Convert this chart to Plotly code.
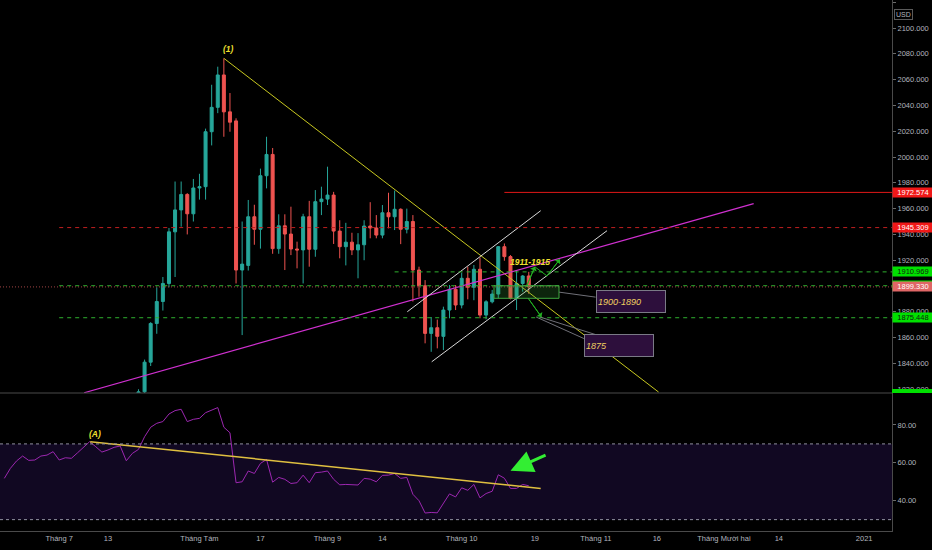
import pandas as pd
import plotly.graph_objects as go
from plotly.subplots import make_subplots

# XAUUSD daily candles 20 Jul - 16 Oct 2020
candle_dates = pd.bdate_range("2020-07-20", "2020-10-16")
opens = [1808, 1818, 1841, 1871, 1888, 1902, 1942, 1959, 1971, 1956,
         1976, 1977, 2019.6, 2038.5, 2063.6, 2035, 2028, 1912.4, 1916, 1953.7,
         1944, 1985.5, 2002, 1929, 1946.7, 1940.3, 1928.7, 1928, 1953.7, 1928.5,
         1965.4, 1967.4, 1970.5, 1942.6, 1930.5, 1934, 1928, 1932, 1946.5, 1945,
         1939.5, 1956.8, 1953.7, 1959.5, 1944, 1950, 1912.4, 1900.2, 1863.3, 1867.7,
         1861, 1881.4, 1897.5, 1885.3, 1906, 1899, 1913, 1877.5, 1887.8, 1893.8,
         1930.5, 1922.8, 1890.5, 1902, 1907.8]
highs = [1820, 1843, 1872, 1899, 1907, 1945, 1981, 1981, 1972, 1983,
         1987, 2022, 2056, 2070, 2076.5, 2049.6, 2030, 1950, 1966.7, 1963,
         1991, 2015.7, 2007, 1955.6, 1955.6, 1961.5, 1934.4, 1956, 1966, 1974.4,
         1977, 1992.5, 1973, 1951, 1949, 1941.3, 1941, 1951, 1965, 1955,
         1962.8, 1972.3, 1974, 1960.2, 1960, 1955, 1915, 1904.6, 1876, 1874,
         1884, 1900.8, 1900.8, 1910.3, 1915, 1916.3, 1922.2, 1889, 1897, 1931,
         1933, 1924, 1912, 1908.5, 1911]
lows = [1801, 1815, 1838, 1863, 1881, 1899, 1907, 1946, 1940, 1950,
        1967, 1967, 2009, 2034, 2015.7, 2019.6, 1902, 1862, 1912, 1932,
        1929, 1975.7, 1925, 1925, 1912.4, 1924, 1913.7, 1902, 1915, 1922.7,
        1955, 1962.8, 1932.6, 1921.5, 1916, 1924, 1906, 1920, 1937, 1937,
        1937, 1944.7, 1943.4, 1932.5, 1940.8, 1888, 1891.7, 1855.6, 1849, 1851.7,
        1850.4, 1875, 1881.4, 1882.7, 1889.7, 1889, 1875, 1874.2, 1886.6, 1890.5,
        1919.6, 1889.7, 1881.4, 1895.6, 1894]
closes = [1818, 1841, 1871, 1888, 1902, 1942, 1959, 1971, 1956, 1976,
          1977, 2019.6, 2038.5, 2063.6, 2035, 2027, 1912.4, 1917, 1953.7, 1944,
          1985.5, 2002, 1929, 1946.7, 1940.3, 1928.7, 1928, 1953.7, 1928.5, 1965.4,
          1967.4, 1970.5, 1942.6, 1930.5, 1934, 1928, 1932, 1946.5, 1945, 1939.5,
          1956.8, 1953.7, 1959.5, 1944, 1950, 1912.4, 1900.2, 1863.3, 1867.7, 1861,
          1881.4, 1897.5, 1885.3, 1906, 1899, 1913, 1877.5, 1887.8, 1893.8, 1930.5,
          1922.8, 1890.5, 1902, 1907.8, 1899.33]

# RSI(14), 18 Jun - 16 Oct 2020
rsi_dates = pd.bdate_range("2020-06-18", "2020-10-16")
rsi = [51.8, 57.1, 61.0, 63.6, 61.3, 61.5, 63.6, 64.1, 65.9,
       61.5, 62.7, 62.4, 65.3, 68.2, 71.2, 68.5, 65.7, 66.8, 68.2,
       68.9, 61.1, 65.0, 67.1, 73.8, 78.8, 80.9, 81.8, 85.8, 87.6,
       88.3, 81.8, 83.0, 83.5, 86.5, 87.9, 89.2, 78.8, 75.9, 49.5,
       50.0, 55.7, 54.4, 59.7, 61.8, 49.8, 52.3, 51.3, 49.1, 49.5,
       53.5, 49.5, 54.8, 55.1, 55.7, 51.3, 48.4, 48.6, 48.3, 48.3,
       51.8, 51.4, 50.0, 53.4, 53.5, 54.4, 51.8, 52.3, 43.4, 40.0,
       33.5, 33.8, 33.6, 38.6, 43.6, 42.0, 46.8, 45.5, 48.6, 41.5,
       43.8, 45.0, 53.7, 51.9, 46.5, 46.5, 48.6, 47.9]

# horizontal levels
level_prices = [1972.574, 1945.309, 1910.969, 1900.248, 1875.448]
level_starts = ["2020-10-12", "2020-07-01", "2020-09-16", "2020-07-01", "2020-07-01"]
last_price = 1899.330

# drawn trendlines (date, price)
down_x, down_y = ["2020-08-07", "2020-11-16 07:00"], [2076.5, 1817.8]
up_x, up_y = ["2020-07-07 02:00", "2020-12-07 21:00"], [1817.3, 1963.9]
chan_top_x, chan_top_y = ["2020-09-18 02:00", "2020-10-19 23:00"], [1880.1, 1958.4]
chan_bot_x, chan_bot_y = ["2020-09-24 02:00", "2020-11-03 20:00"], [1841.3, 1942.9]
rsi_tl_x, rsi_tl_y = ["2020-07-08 02:00", "2020-10-19 23:00"], [71.2, 46.5]

# forecast path
path_x = ["2020-10-15 14:00", "2020-10-19", "2020-10-21", "2020-10-23 02:00"]
path_y = [1899.2, 1914.9, 1907.8, 1920.7]
drop_x, drop_y = ["2020-10-15 21:00", "2020-10-20 02:00"], [1890.7, 1876.0]

tick_dates = ["2020-07-01", "2020-07-13", "2020-08-03", "2020-08-17", "2020-09-01",
              "2020-09-14", "2020-10-01", "2020-10-19", "2020-11-02", "2020-11-16",
              "2020-12-01", "2020-12-14", "2021-01-01"]
tick_text = ["Tháng 7", "13", "Tháng Tám", "17", "Tháng 9", "14", "Tháng 10", "19",
             "Tháng 11", "16", "Tháng Mười hai", "14", "2021"]

GREEN = "#26a69a"
RED = "#ef5350"
AXC = "#b2b5be"
FONT = "Liberation Sans"
split = 138 / 531

fig = make_subplots(rows=2, cols=1, shared_xaxes=True, vertical_spacing=0,
                    row_heights=[0.74, 0.26])

fig.add_trace(go.Candlestick(
    x=candle_dates, open=opens, high=highs, low=lows, close=closes,
    increasing=dict(line=dict(color=GREEN, width=1), fillcolor=GREEN),
    decreasing=dict(line=dict(color=RED, width=1), fillcolor=RED),
    showlegend=False), row=1, col=1)

for xs, ys, col, w in [(down_x, down_y, "#c8c820", 1),
                       (up_x, up_y, "#d030d0", 1.2),
                       (chan_top_x, chan_top_y, "#d8d8d8", 1),
                       (chan_bot_x, chan_bot_y, "#d8d8d8", 1)]:
    fig.add_trace(go.Scatter(x=xs, y=ys, mode="lines", line=dict(color=col, width=w),
                             showlegend=False, hoverinfo="skip"), row=1, col=1)

fig.add_trace(go.Scatter(x=rsi_dates, y=rsi, mode="lines",
                         line=dict(color="#9c27b0", width=1),
                         showlegend=False), row=2, col=1)
fig.add_trace(go.Scatter(x=rsi_tl_x, y=rsi_tl_y, mode="lines",
                         line=dict(color="#e0c040", width=1.5),
                         showlegend=False, hoverinfo="skip"), row=2, col=1)

# level lines
styles = [("#e01818", "solid"), ("#c02020", "4px,4px"), ("#2fb02f", "4px,4px"),
          ("#2fb02f", "4px,4px"), ("#2fb02f", "4px,4px")]
for p, s, (c, d) in zip(level_prices, level_starts, styles):
    fig.add_shape(type="line", xref="x", yref="y", x0=s, x1="2021-01-20", y0=p, y1=p,
                  line=dict(color=c, width=1, dash=d))
fig.add_shape(type="line", xref="paper", yref="y", x0=0, x1=1, y0=last_price, y1=last_price,
              line=dict(color="#a04444", width=1, dash="1px,2px"))

# 1900-1890 zone
fig.add_shape(type="rect", xref="x", yref="y", x0="2020-10-08 07:00", x1="2020-10-22 23:00",
              y0=1890.5, y1=1900.2, fillcolor="rgba(60,170,60,0.22)",
              line=dict(color="#3fa83f", width=1))

# callout pointers
for (x0, y0, x1, y1) in [("2020-10-22 23:00", 1895.3, "2020-10-30 23:00", 1891.4),
                         ("2020-10-19 05:00", 1876.0, "2020-10-29 01:00", 1859.3),
                         ("2020-10-19 20:00", 1876.0, "2020-11-02 05:00", 1862.0)]:
    fig.add_shape(type="line", xref="x", yref="y", x0=x0, x1=x1, y0=y0, y1=y1,
                  line=dict(color="#707078", width=1))

# forecast arrows
fig.add_trace(go.Scatter(x=path_x, y=path_y, mode="lines", line=dict(color="#22b022", width=1),
                         showlegend=False, hoverinfo="skip"), row=1, col=1)
fig.add_trace(go.Scatter(x=drop_x, y=drop_y, mode="lines", line=dict(color="#22b022", width=1),
                         showlegend=False, hoverinfo="skip"), row=1, col=1)
for hx, hy, tx, ty in [(path_x[1], path_y[1], path_x[0], path_y[0]),
                       (path_x[3], path_y[3], path_x[2], path_y[2]),
                       (drop_x[1], drop_y[1], drop_x[0], drop_y[0])]:
    fig.add_annotation(x=hx, y=hy, ax=tx, ay=ty, xref="x", yref="y", axref="x", ayref="y",
                       text="", showarrow=True, arrowhead=1, arrowsize=1.2,
                       arrowwidth=1, arrowcolor="#22b022")

# RSI pane band and bounds
fig.add_shape(type="rect", xref="x2 domain", yref="y2", x0=0, x1=1, y0=30, y1=70,
              fillcolor="#110822", line=dict(width=0), layer="below")
for v in (70, 30):
    fig.add_shape(type="line", xref="x2 domain", yref="y2", x0=0, x1=1, y0=v, y1=v,
                  line=dict(color="#9090a0", width=1, dash="3px,3px"))
fig.add_shape(type="line", xref="paper", yref="paper", x0=0, x1=1, y0=split, y1=split,
              line=dict(color="#4a4a4a", width=1))

# RSI arrow
fig.add_annotation(x="2020-10-13", y=55.8, ax="2020-10-21", ay=64.4, xref="x2", yref="y2",
                   axref="x2", ayref="y2", text="", showarrow=True, arrowhead=2,
                   arrowsize=1.5, arrowwidth=3, arrowcolor="#33ee33")

lab = dict(family=FONT, color="#f0e030", size=8.5)
fig.add_annotation(x="2020-08-07 20:00", y=2084, xref="x", yref="y", text="<b><i>(1)</i></b>",
                   showarrow=False, font=lab)
fig.add_annotation(x="2020-07-08 21:00", y=75.5, xref="x2", yref="y2", text="<b><i>(A)</i></b>",
                   showarrow=False, font=lab)
fig.add_annotation(x="2020-10-16 04:00", y=1918.6, xref="x", yref="y",
                   text="<b><i>1911-1915</i></b>", showarrow=False,
                   font=dict(family=FONT, color="#f0e030", size=8.5))
for bx, by, txt in [("2020-10-30 23:00", 1887.9, "1900-1890"),
                    ("2020-10-29 01:00", 1853.9, "1875")]:
    fig.add_annotation(x=bx, y=by, xref="x", yref="y", xanchor="left", yanchor="middle",
                       text="<i>" + txt + "</i>", showarrow=False, align="left",
                       width=66, height=19, borderpad=1, bgcolor="#2d0f3c",
                       bordercolor="#7a7a86", borderwidth=1,
                       font=dict(family=FONT, color="#f0d060", size=9))

# price scale tags
tags = [(1972.574, "#f01818", "#ffffff"), (1945.309, "#f01818", "#ffffff"),
        (1910.969, "#00e000", "#10220f"), (1900.248, "#00e000", "#10220f"),
        (last_price, "#e06666", "#ffffff"), (1875.448, "#00e000", "#10220f")]
for p, bg, fg in tags:
    fig.add_annotation(x=1, y=p, xref="paper", yref="y", xanchor="left", yanchor="middle",
                       text=f"{p:.3f}", showarrow=False, width=40, height=9, borderpad=0,
                       bgcolor=bg, font=dict(family=FONT, color=fg, size=7.5))
fig.add_shape(type="rect", xref="paper", yref="paper", x0=1, x1=1.045,
              y0=split, y1=split + 4 / 531, fillcolor="#00e000", line=dict(width=0))
fig.add_annotation(x=1.0235, y=0.983, xref="paper", yref="paper", text="USD",
                   showarrow=False, bordercolor="#5a5a5a", borderwidth=1, borderpad=1,
                   font=dict(family=FONT, color=AXC, size=7))

fig.update_xaxes(rangebreaks=[dict(bounds=["sat", "mon"])],
                 range=["2020-06-17 07:00", "2021-01-07 13:30"],
                 showgrid=False, zeroline=False, rangeslider_visible=False)
fig.update_xaxes(tickvals=tick_dates, ticktext=tick_text, tickfont=dict(family=FONT, size=7.5, color=AXC),
                 showline=True, linecolor="#4a4a4a", ticks="", row=2, col=1)

fig.update_layout(
    width=932, height=550, margin=dict(l=0, r=40, t=0, b=19),
    paper_bgcolor="#000000", plot_bgcolor="#000000",
    font=dict(family=FONT, color=AXC),
    xaxis_rangeslider_visible=False,
    yaxis=dict(domain=[split, 1], range=[1817.1, 2121.7], side="right", dtick=20,
               tickformat=".3f", showgrid=False, zeroline=False, showline=True,
               linecolor="#4a4a4a", ticks="outside", ticklen=3, tickcolor="#6a6a6a",
               tickfont=dict(family=FONT, size=7.5, color=AXC)),
    yaxis2=dict(domain=[0, split], range=[24.0, 96.9], side="right",
                tickvals=[40, 60, 80], tickformat=".2f", showgrid=False, zeroline=False,
                showline=True, linecolor="#4a4a4a", ticks="outside", ticklen=3,
                tickcolor="#6a6a6a", tickfont=dict(family=FONT, size=7.5, color=AXC)),
)

# page body margin off so the chart sits at the window corner
fig.write_html("out.html", config={"displayModeBar": False},
               post_script="document.body.style.margin='0';"
               "document.body.style.background='#000';")
